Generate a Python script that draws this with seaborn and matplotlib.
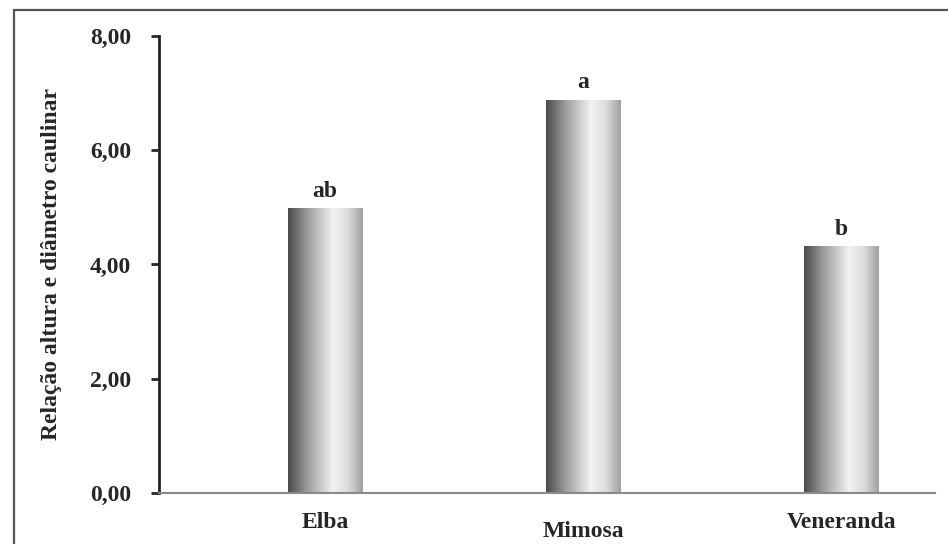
import matplotlib
matplotlib.use('Agg')
import matplotlib.pyplot as plt
import numpy as np
import pandas as pd
import seaborn as sns
from matplotlib.colors import LinearSegmentedColormap
from matplotlib.patches import Rectangle
from matplotlib.transforms import ScaledTranslation

# data
cultivares = ['Elba', 'Mimosa', 'Veneranda']
relacao = [4.98, 6.88, 4.31]
letras = ['ab', 'a', 'b']
yticks = [0, 2, 4, 6, 8]
ytick_labels = ['0,00', '2,00', '4,00', '6,00', '8,00']

df = pd.DataFrame({'cultivar': cultivares, 'valor': relacao})

sns.set_style('white')
plt.rcParams['font.family'] = ['Liberation Serif', 'DejaVu Serif']
plt.rcParams['font.weight'] = 'bold'

fig = plt.figure(figsize=(9.48, 5.44), dpi=100)
ax = fig.add_axes([0.1677, 0.0938, 0.8186, 0.8400])

sns.barplot(data=df, x='cultivar', y='valor', ax=ax, width=0.287,
            color='white', edgecolor='none', linewidth=0)

# horizontal gradient like the original "cylinder" bars
grad_cmap = LinearSegmentedColormap.from_list(
    'cyl', [(0.0, '#4a4a4a'), (0.25, '#9a9a9a'), (0.6, '#f2f2f2'),
            (0.8, '#dcdcdc'), (1.0, '#a0a0a0')])
grad = np.linspace(0, 1, 256).reshape(1, -1)
for p in ax.patches:
    x0, y0 = p.get_x(), p.get_y()
    w, h = p.get_width(), p.get_height()
    ax.imshow(grad, cmap=grad_cmap, aspect='auto', interpolation='bilinear',
              extent=(x0, x0 + w, y0, y0 + h), zorder=2)

for i, (v, l) in enumerate(zip(relacao, letras)):
    ax.annotate(l, (i, v), xytext=(0, 5), textcoords='offset points',
                ha='center', va='bottom', fontsize=17, fontweight='bold')

ax.set_xlim(-0.643, 2.364)
ax.set_ylim(0, 8)
ax.set_yticks(yticks)
ax.set_yticklabels(ytick_labels)
ax.set_xlabel('')
ax.set_ylabel('Relação altura e diâmetro caulinar', fontsize=17,
              fontweight='bold', labelpad=20)

ax.tick_params(axis='y', direction='out', length=6, width=2, pad=14,
               labelsize=17, left=True)
ax.tick_params(axis='x', length=0, pad=14, labelsize=17)

# Mimosa label sits lower in the original
lbls = ax.get_xticklabels()
lbls[1].set_transform(lbls[1].get_transform() +
                      ScaledTranslation(0, -9 / 100, fig.dpi_scale_trans))

for s in ['top', 'right']:
    ax.spines[s].set_visible(False)
ax.spines['left'].set_color('#222222')
ax.spines['left'].set_linewidth(2)
ax.spines['bottom'].set_color('#8a8a8a')
ax.spines['bottom'].set_linewidth(1.5)

# outer frame (cropped at right and bottom)
fig.patches.append(Rectangle((14 / 948, -0.1), 1.2, 1 - 10 / 544 + 0.1,
                             transform=fig.transFigure, fill=False,
                             edgecolor='#555555', linewidth=1.6))

fig.savefig('out.png', dpi=100)
